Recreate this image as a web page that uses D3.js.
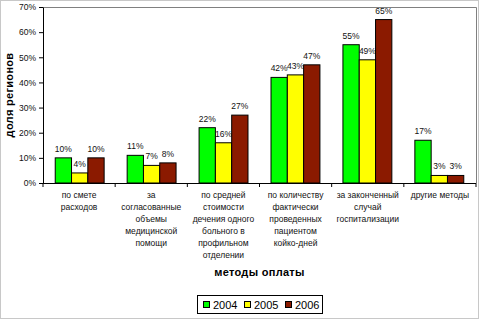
<!DOCTYPE html>
<html>
<head>
<meta charset="utf-8">
<script src="https://cdn.jsdelivr.net/npm/d3@7"></script>
<style>
  body { margin: 0; background: #fff; }
  svg { display: block; font-family: "Liberation Sans", Arial, sans-serif; }
</style>
</head>
<body>
<svg id="chart" width="480" height="321"></svg>
<script>
// методы оплаты — подписи категорий (по строкам)
const categories = [
  ['по смете', 'расходов'],
  ['за', 'согласованные', 'объемы', 'медицинской', 'помощи'],
  ['по средней', 'стоимости', 'дечения одного', 'больного в', 'профильном', 'отделении'],
  ['по количеству', 'фактически', 'проведенных', 'пациентом', 'койко-дней'],
  ['за законченный', 'случай', 'госпитализации'],
  ['другие методы']
];
const years = ['2004', '2005', '2006'];
const values2004 = [10, 11, 22, 42, 55, 17];
const values2005 = [4, 7, 16, 43, 49, 3];
const values2006 = [10, 8, 27, 47, 65, 3];
const yTicks = [0, 10, 20, 30, 40, 50, 60, 70];
const colors = ['#00ff00', '#ffff00', '#8b1a00'];

const series = [values2004, values2005, values2006];
const svg = d3.select('#chart');

// рамка области диаграммы
svg.append('rect')
  .attr('x', 0.5).attr('y', 0.5).attr('width', 478).attr('height', 318)
  .attr('fill', '#fff').attr('stroke', '#c8c8c8');

const plot = { left: 43, right: 476, top: 7, bottom: 183 };

const x = d3.scaleBand()
  .domain(d3.range(categories.length))
  .range([plot.left, plot.right])
  .paddingInner(0.32).paddingOuter(0.17);

const xs = d3.scaleBand()
  .domain(d3.range(years.length))
  .range([0, x.bandwidth()]);

const y = d3.scaleLinear().domain([0, 70]).range([plot.bottom, plot.top]);

// верхняя и правая границы области построения
svg.append('path')
  .attr('d', `M${plot.left},${plot.top + 0.5}H${plot.right + 0.5}V${plot.bottom}`)
  .attr('fill', 'none').attr('stroke', '#808080');

// столбцы
const groups = svg.append('g').selectAll('g')
  .data(series)
  .join('g')
  .attr('fill', (d, i) => colors[i]);

groups.selectAll('rect')
  .data((d, si) => d.map((v, ci) => ({ v, ci, si })))
  .join('rect')
  .attr('x', d => x(d.ci) + xs(d.si))
  .attr('y', d => y(d.v))
  .attr('width', xs.bandwidth())
  .attr('height', d => y(0) - y(d.v))
  .attr('stroke', '#000').attr('stroke-width', 1);

// подписи значений
groups.selectAll('text')
  .data((d, si) => d.map((v, ci) => ({ v, ci, si })))
  .join('text')
  .attr('x', d => x(d.ci) + xs(d.si) + xs.bandwidth() / 2)
  .attr('y', d => y(d.v) - 6)
  .attr('text-anchor', 'middle')
  .attr('font-size', 8.5)
  .attr('fill', '#111')
  .text(d => d.v + '%');

// ось Y
const yAxis = svg.append('g')
  .attr('transform', `translate(${plot.left},0)`)
  .call(d3.axisLeft(y).tickValues(yTicks).tickFormat(d => d + '%').tickSize(4).tickSizeOuter(0));
yAxis.select('.domain').attr('stroke', '#000');
yAxis.selectAll('text').attr('font-size', 8.5).attr('fill', '#111').attr('font-family', 'Liberation Sans, Arial, sans-serif');

// ось X с делениями между категориями
svg.append('line')
  .attr('x1', plot.left).attr('x2', plot.right)
  .attr('y1', plot.bottom + 0.5).attr('y2', plot.bottom + 0.5)
  .attr('stroke', '#000');
const step = (plot.right - plot.left) / categories.length;
svg.append('g').selectAll('line')
  .data(d3.range(categories.length + 1))
  .join('line')
  .attr('x1', i => plot.left + i * step).attr('x2', i => plot.left + i * step)
  .attr('y1', plot.bottom).attr('y2', plot.bottom + 4)
  .attr('stroke', '#000');

// подписи категорий
svg.append('g').selectAll('text')
  .data(categories)
  .join('text')
  .attr('text-anchor', 'middle')
  .attr('font-size', 8.5)
  .attr('fill', '#111')
  .each(function (lines, i) {
    d3.select(this).selectAll('tspan')
      .data(lines)
      .join('tspan')
      .attr('x', plot.left + (i + 0.5) * step)
      .attr('y', (d, k) => 198 + k * 12)
      .text(d => d);
  });

// заголовки осей
svg.append('text')
  .attr('transform', 'translate(13,95) rotate(-90)')
  .attr('text-anchor', 'middle')
  .attr('font-size', 11).attr('font-weight', 'bold')
  .attr('letter-spacing', 0.3)
  .text('доля регионов');

svg.append('text')
  .attr('x', (plot.left + plot.right) / 2).attr('y', 276)
  .attr('text-anchor', 'middle')
  .attr('font-size', 11).attr('font-weight', 'bold')
  .attr('letter-spacing', 0.3)
  .text('методы оплаты');

// легенда
const legend = svg.append('g').attr('transform', 'translate(197,295)');
legend.append('rect')
  .attr('x', 0.5).attr('y', 0.5).attr('width', 125).attr('height', 18)
  .attr('fill', '#fff').attr('stroke', '#000');
const item = legend.selectAll('g.item')
  .data(years)
  .join('g')
  .attr('class', 'item')
  .attr('transform', (d, i) => `translate(${6 + i * 41},0)`);
item.append('rect')
  .attr('x', 0.5).attr('y', 6.5).attr('width', 6).attr('height', 6)
  .attr('fill', (d, i) => colors[i]).attr('stroke', '#000');
item.append('text')
  .attr('x', 10).attr('y', 14)
  .attr('font-size', 11)
  .text(d => d);
</script>
</body>
</html>
